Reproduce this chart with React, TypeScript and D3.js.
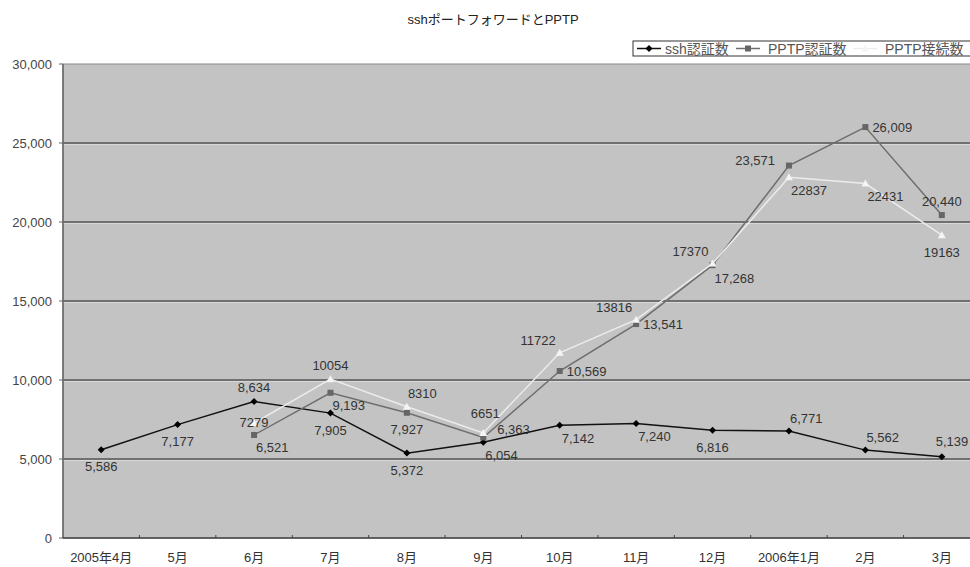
import * as d3 from "d3";

const months = ["2005年4月", "5月", "6月", "7月", "8月", "9月", "10月", "11月", "12月", "2006年1月", "2月", "3月"];
const sshAuth = [5586, 7177, 8634, 7905, 5372, 6054, 7142, 7240, 6816, 6771, 5562, 5139];
const pptpAuth = [null, null, 6521, 9193, 7927, 6363, 10569, 13541, 17268, 23571, 26009, 20440];
const pptpConn = [null, null, 7279, 10054, 8310, 6651, 11722, 13816, 17370, 22837, 22431, 19163];
const yTicks = [0, 5000, 10000, 15000, 20000, 25000, 30000];

// where each value label sits relative to its point (Excel had them moved by hand)
const sshLabelPos = ["b", "b", "a", "b", "b", "br", "br", "br", "b", "ar", "ar", "ar3"];
const authLabelPos = ["", "", "br", "br", "b", "ar2", "r", "r", "br", "l", "r", "a"];
const connLabelPos = ["", "", "c", "a", "ar", "a2", "al", "al", "al", "br", "br", "b"];

const W = 970;
const H = 567;
const plot = { left: 63, top: 64, right: 980, bottom: 538 };
const font = "'Liberation Sans', Arial, 'Noto Sans CJK JP', sans-serif";

const offsets: Record<string, { dx: number; dy: number; anchor: string }> = {
  a: { dx: 0, dy: -14, anchor: "middle" },
  a2: { dx: 2, dy: -19, anchor: "middle" },
  b: { dx: 0, dy: 17, anchor: "middle" },
  r: { dx: 7, dy: 0, anchor: "start" },
  l: { dx: -14, dy: -5, anchor: "end" },
  br: { dx: 2, dy: 13, anchor: "start" },
  ar: { dx: 1, dy: -13, anchor: "start" },
  ar2: { dx: 14, dy: -8, anchor: "start" },
  ar3: { dx: -6, dy: -15, anchor: "start" },
  al: { dx: -4, dy: -12, anchor: "end" },
  c: { dx: 0, dy: 0, anchor: "middle" },
};

type Pt = { i: number; v: number };

export default function App() {
  const x = d3.scaleBand<string>().domain(months).range([plot.left, plot.right]);
  const y = d3.scaleLinear().domain([0, 30000]).range([plot.bottom, plot.top]);
  const cx = (i: number) => (x(months[i]) || 0) + x.bandwidth() / 2;

  const toPts = (arr: (number | null)[]): Pt[] =>
    arr.map((v, i) => ({ i, v: v as number })).filter((d) => d.v != null);

  const line = d3
    .line<Pt>()
    .x((d) => cx(d.i))
    .y((d) => y(d.v));

  const fmtComma = d3.format(",");
  const series = [
    { name: "ssh認証数", pts: toPts(sshAuth), stroke: "#111", marker: "diamond", fill: "#000", pos: sshLabelPos, fmt: fmtComma },
    { name: "PPTP認証数", pts: toPts(pptpAuth), stroke: "#6e6e6e", marker: "square", fill: "#666", pos: authLabelPos, fmt: fmtComma },
    { name: "PPTP接続数", pts: toPts(pptpConn), stroke: "#ececec", marker: "triangle", fill: "#f4f4f4", pos: connLabelPos, fmt: (v: number) => String(v) },
  ];

  const marker = (kind: string, px: number, py: number, fill: string, key?: string) => {
    if (kind === "diamond")
      return <path key={key} d={`M${px},${py - 3.5}L${px + 3.5},${py}L${px},${py + 3.5}L${px - 3.5},${py}Z`} fill={fill} />;
    if (kind === "square") return <rect key={key} x={px - 3} y={py - 3} width={6} height={6} fill={fill} />;
    return <path key={key} d={`M${px},${py - 4}L${px + 4},${py + 3}L${px - 4},${py + 3}Z`} fill={fill} />;
  };

  const legendItems = [
    { x: 637, tx: 665 },
    { x: 736, tx: 768 },
    { x: 853, tx: 885 },
  ];

  return (
    <svg width={W} height={H} style={{ position: "absolute", left: 0, top: 0, background: "#fff" }} fontFamily={font}>
      <text x={493} y={24} textAnchor="middle" fontSize={13} fill="#222">
        sshポートフォワードとPPTP
      </text>

      {/* legend */}
      <rect x={633} y={41} width={345} height={15} fill="#fff" stroke="#333" strokeWidth={1} />
      {series.map((s, k) => {
        const it = legendItems[k];
        return (
          <g key={s.name}>
            <line x1={it.x} x2={it.x + 24} y1={48.5} y2={48.5} stroke={s.stroke} strokeWidth={1.5} />
            {marker(s.marker, it.x + 12, 48.5, s.fill)}
            <text x={it.tx} y={53.5} fontSize={14} fill="#555">
              {s.name}
            </text>
          </g>
        );
      })}

      {/* plot area */}
      <rect x={plot.left} y={plot.top} width={plot.right - plot.left} height={plot.bottom - plot.top} fill="#c3c3c3" stroke="#8a8a8a" />
      {yTicks.slice(1, -1).map((t) => (
        <g key={t}>
          <line x1={plot.left} x2={plot.right} y1={y(t)} y2={y(t)} stroke="#555" strokeWidth={1.5} />
          <line x1={plot.left} x2={plot.right} y1={y(t) + 1.5} y2={y(t) + 1.5} stroke="#d8d8d8" strokeWidth={1} />
        </g>
      ))}
      <line x1={plot.left} x2={plot.left} y1={plot.top} y2={plot.bottom} stroke="#666" strokeWidth={1.5} />
      <line x1={plot.left} x2={plot.right} y1={plot.bottom} y2={plot.bottom} stroke="#444" strokeWidth={1.5} />

      {yTicks.map((t) => (
        <g key={t}>
          <line x1={plot.left - 4} x2={plot.left} y1={y(t)} y2={y(t)} stroke="#666" />
          <text x={52} y={y(t) + 4.5} textAnchor="end" fontSize={13} fill="#444">
            {fmtComma(t)}
          </text>
        </g>
      ))}

      {months.map((m, i) => (
        <g key={m}>
          {i > 0 && (
            <line x1={x(m)} x2={x(m)} y1={plot.bottom} y2={plot.bottom - 3} stroke="#444" />
          )}
          <text x={cx(i)} y={562} textAnchor="middle" fontSize={13} fill="#333">
            {m}
          </text>
        </g>
      ))}

      {/* series */}
      {series.map((s) => (
        <g key={s.name}>
          <path d={line(s.pts) || ""} fill="none" stroke={s.stroke} strokeWidth={1.5} />
          {s.pts.map((d) => marker(s.marker, cx(d.i), y(d.v), s.fill, `m${d.i}`))}
        </g>
      ))}

      {/* value labels */}
      {series.map((s) =>
        s.pts.map((d) => {
          const o = offsets[s.pos[d.i]] || offsets.r;
          return (
            <text
              key={`${s.name}${d.i}`}
              x={cx(d.i) + o.dx}
              y={y(d.v) + o.dy + 4.5}
              textAnchor={o.anchor}
              fontSize={13}
              fill="#333"
            >
              {s.fmt(d.v)}
            </text>
          );
        })
      )}
    </svg>
  );
}
